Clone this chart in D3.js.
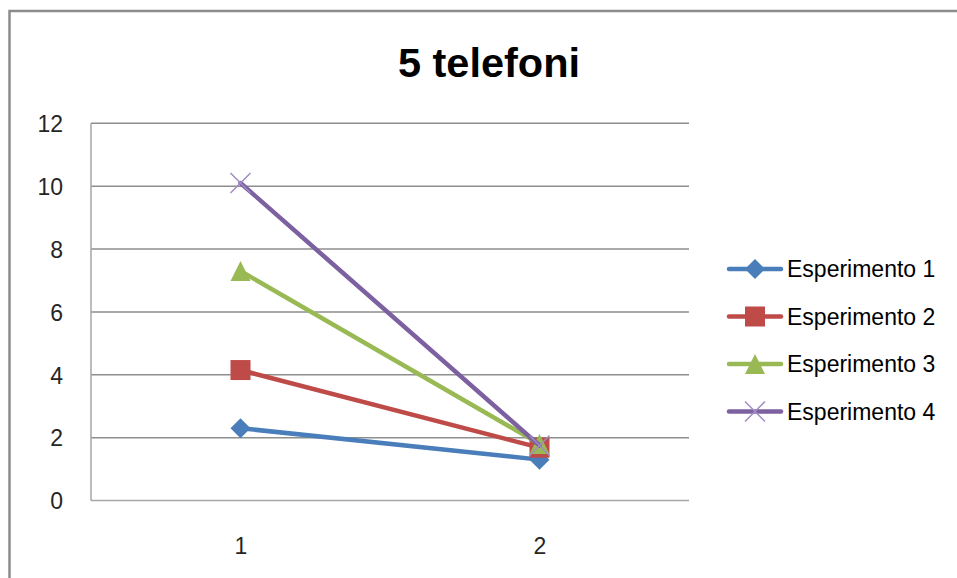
<!DOCTYPE html>
<html>
<head>
<meta charset="utf-8">
<script src="https://cdn.jsdelivr.net/npm/d3@7"></script>
<style>
  html, body { margin: 0; padding: 0; background: #fff; }
  svg { display: block; font-family: "Liberation Sans", Arial, sans-serif; }
</style>
</head>
<body>
<svg id="chart" width="957" height="578"></svg>
<script>
// Chart data
const title = "5 telefoni";
const categories = ["1", "2"];
const seriesNames = ["Esperimento 1", "Esperimento 2", "Esperimento 3", "Esperimento 4"];
const esperimento1 = [2.3, 1.3];
const esperimento2 = [4.15, 1.68];
const esperimento3 = [7.3, 1.8];
const esperimento4 = [10.1, 1.75];
const yTicks = [0, 2, 4, 6, 8, 10, 12];

const seriesValues = [esperimento1, esperimento2, esperimento3, esperimento4];
const colors = ["#4A7EBB", "#BE4B48", "#98B954", "#7D60A0"];
const symbols = ["diamond", "square", "triangle", "cross"];

const svg = d3.select("#chart");

// Outer chart border
svg.append("rect")
  .attr("x", 9.5).attr("y", 11)
  .attr("width", 980).attr("height", 620)
  .attr("fill", "#fff")
  .attr("stroke", "#8c8c8c").attr("stroke-width", 2.5);

const plot = { left: 91, right: 689, top: 123.3, bottom: 500.5 };

const x = d3.scalePoint().domain(categories)
  .range([plot.left, plot.right]).padding(0.5);
const y = d3.scaleLinear().domain([0, 12]).range([plot.bottom, plot.top]);

// Horizontal gridlines
svg.append("g")
  .selectAll("line")
  .data(yTicks.filter(t => t > 0))
  .join("line")
  .attr("x1", plot.left).attr("x2", plot.right)
  .attr("y1", d => y(d)).attr("y2", d => y(d))
  .attr("stroke", "#8e8e8e").attr("stroke-width", 1.5);

// Plot-area axes lines
svg.append("line")
  .attr("x1", plot.left).attr("x2", plot.left)
  .attr("y1", plot.top).attr("y2", plot.bottom)
  .attr("stroke", "#a6a6a6").attr("stroke-width", 1.5);
svg.append("line")
  .attr("x1", plot.left).attr("x2", plot.right)
  .attr("y1", plot.bottom).attr("y2", plot.bottom)
  .attr("stroke", "#a6a6a6").attr("stroke-width", 1.5);

// Y axis labels
const yAxis = d3.axisLeft(y).tickValues(yTicks).tickSize(0).tickPadding(0);
const gy = svg.append("g").attr("transform", `translate(${plot.left - 28},0)`).call(yAxis);
gy.select(".domain").remove();
gy.selectAll("text")
  .attr("font-size", 23).attr("font-family", "Liberation Sans, Arial, sans-serif")
  .attr("fill", "#262626").attr("dy", "0.36em");

// X axis labels
const xAxis = d3.axisBottom(x).tickSize(0).tickPadding(0);
const gx = svg.append("g").attr("transform", `translate(0,${plot.bottom + 37})`).call(xAxis);
gx.select(".domain").remove();
gx.selectAll("text")
  .attr("font-size", 23).attr("font-family", "Liberation Sans, Arial, sans-serif")
  .attr("fill", "#262626").attr("dy", "0.71em");

// Title
svg.append("text")
  .attr("x", 489).attr("y", 77)
  .attr("text-anchor", "middle")
  .attr("font-size", 41.5).attr("font-weight", "bold")
  .attr("fill", "#000")
  .text(title);

// Marker drawing helper
function drawMarker(g, type, color, cx, cy) {
  const s = 10;
  if (type === "diamond") {
    g.append("path")
      .attr("d", `M${cx},${cy - s}L${cx + s},${cy}L${cx},${cy + s}L${cx - s},${cy}Z`)
      .attr("fill", color);
  } else if (type === "square") {
    g.append("rect")
      .attr("x", cx - s).attr("y", cy - s)
      .attr("width", 2 * s).attr("height", 2 * s)
      .attr("fill", color);
  } else if (type === "triangle") {
    g.append("path")
      .attr("d", `M${cx},${cy - s}L${cx + s},${cy + s}L${cx - s},${cy + s}Z`)
      .attr("fill", color);
  } else if (type === "cross") {
    g.append("path")
      .attr("d", `M${cx - s},${cy - s}L${cx + s},${cy + s}M${cx - s},${cy + s}L${cx + s},${cy - s}`)
      .attr("stroke", "#A08BC4").attr("stroke-width", 1.5).attr("fill", "none");
  }
}

// Series lines and markers
const line = d3.line()
  .x((d, i) => x(categories[i]))
  .y(d => y(d));

seriesValues.forEach((vals, si) => {
  const g = svg.append("g");
  g.append("path")
    .datum(vals)
    .attr("d", line)
    .attr("fill", "none")
    .attr("stroke", colors[si])
    .attr("stroke-width", 4.5)
    .attr("stroke-linejoin", "round")
    .attr("stroke-linecap", "round");
  vals.forEach((v, i) => drawMarker(g, symbols[si], colors[si], x(categories[i]), y(v)));
});

// Legend
const legend = svg.append("g");
seriesNames.forEach((name, i) => {
  const ly = 269 + i * 47.5;
  const g = legend.append("g");
  g.append("line")
    .attr("x1", 729).attr("x2", 781)
    .attr("y1", ly).attr("y2", ly)
    .attr("stroke", colors[i]).attr("stroke-width", 4.5)
    .attr("stroke-linecap", "round");
  drawMarker(g, symbols[i], colors[i], 755, ly);
  g.append("text")
    .attr("x", 787).attr("y", ly)
    .attr("dy", "0.36em")
    .attr("font-size", 23)
    .attr("fill", "#000")
    .text(name);
});
</script>
</body>
</html>
